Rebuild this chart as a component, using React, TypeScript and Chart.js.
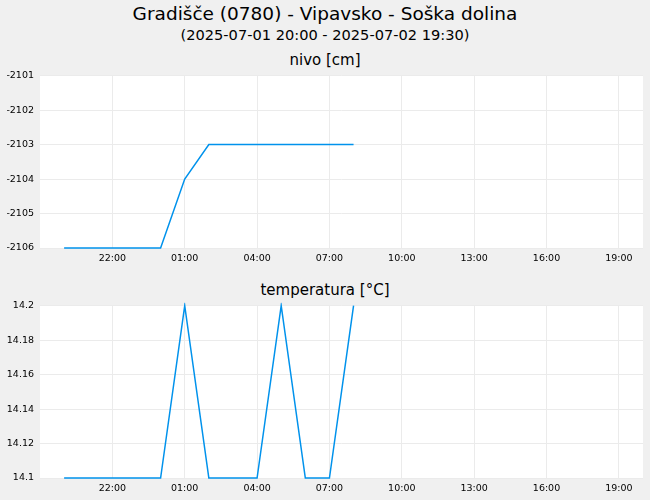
import React, { useEffect, useRef } from "react";
import { Chart, registerables } from "chart.js";
Chart.register(...registerables);

const TITLE = "Gradišče (0780) - Vipavsko - Soška dolina";
const SUBTITLE = "(2025-07-01 20:00 - 2025-07-02 19:30)";
const LEVEL_TITLE = "nivo [cm]";
const TEMP_TITLE = "temperatura [°C]";

const times = ["20:00", "21:00", "22:00", "23:00", "00:00", "01:00", "02:00", "03:00", "04:00", "05:00", "06:00", "07:00", "08:00"];
const levelValues = [-2106, -2106, -2106, -2106, -2106, -2104, -2103, -2103, -2103, -2103, -2103, -2103, -2103];
const tempValues = [14.1, 14.1, 14.1, 14.1, 14.1, 14.2, 14.1, 14.1, 14.1, 14.2, 14.1, 14.1, 14.2];
const xTickLabels = ["22:00", "01:00", "04:00", "07:00", "10:00", "13:00", "16:00", "19:00"];
const axisRange = ["19:00", "20:00"];
const levelTicks = [-2106, -2105, -2104, -2103, -2102, -2101];
const tempTicks = [14.1, 14.12, 14.14, 14.16, 14.18, 14.2];

const BASE = 19;
// hours since 19:00 on day 1, handling wrap past midnight in sequence
function seqHours(list: string[], start = BASE): number[] {
  const out: number[] = [];
  let prev = -Infinity;
  for (const t of list) {
    const [h, m] = t.split(":").map(Number);
    let v = h + m / 60 - start;
    if (v < 0) v += 24;
    while (v <= prev) v += 24;
    out.push(v);
    prev = v;
  }
  return out;
}

const xData = seqHours(times);
const xTicks = seqHours(xTickLabels);
const xRange = seqHours(axisRange);
const xMin = xRange[0];
const xMax = xRange[1] + 24;

const LINE_COLOR = "#0092ec";
const GRID = "#ebebeb";
const FONT = "'DejaVu Sans', sans-serif";

const bgPlugin = {
  id: "areaBg",
  beforeDraw(chart: any) {
    const { ctx, chartArea } = chart;
    ctx.save();
    ctx.fillStyle = "#ffffff";
    ctx.fillRect(chartArea.left, chartArea.top, chartArea.right - chartArea.left, chartArea.bottom - chartArea.top);
    ctx.restore();
  },
};

function makeConfig(values: number[], yTicks: number[], fmt: (v: number) => string): any {
  return {
    type: "line",
    data: {
      datasets: [
        {
          data: xData.map((x, i) => ({ x, y: values[i] })),
          borderColor: LINE_COLOR,
          borderWidth: 1.5,
          pointRadius: 0,
          tension: 0,
          fill: false,
          clip: 3,
        },
      ],
    },
    options: {
      animation: false,
      responsive: false,
      maintainAspectRatio: false,
      layout: { padding: { top: 0, right: 7, left: 0, bottom: 0 } },
      plugins: { legend: { display: false }, tooltip: { enabled: false }, title: { display: false } },
      scales: {
        x: {
          type: "linear",
          min: xMin,
          max: xMax,
          afterBuildTicks: (s: any) => { s.ticks = xTicks.map((v) => ({ value: v })); },
          afterFit: (s: any) => { s.height = 20; },
          grid: { color: GRID, drawTicks: false },
          border: { display: false },
          ticks: {
            padding: 5,
            maxRotation: 0,
            autoSkip: false,
            color: "#000",
            font: { family: FONT, size: 9.5 },
            callback: (v: number) => {
              const i = xTicks.findIndex((t) => Math.abs(t - v) < 1e-6);
              return i >= 0 ? xTickLabels[i] : "";
            },
          },
        },
        y: {
          type: "linear",
          min: yTicks[0],
          max: yTicks[yTicks.length - 1],
          afterBuildTicks: (s: any) => { s.ticks = yTicks.map((v) => ({ value: v })); },
          afterFit: (s: any) => { s.width = 40; },
          grid: { color: GRID, drawTicks: false },
          border: { display: false },
          ticks: {
            padding: 6,
            autoSkip: false,
            color: "#000",
            font: { family: FONT, size: 9.5 },
            callback: (v: number) => fmt(v),
          },
        },
      },
    },
    plugins: [bgPlugin],
  };
}

function ChartCanvas({ top, values, yTicks, fmt }: { top: number; values: number[]; yTicks: number[]; fmt: (v: number) => string }) {
  const ref = useRef<HTMLCanvasElement | null>(null);
  useEffect(() => {
    if (!ref.current) return;
    const chart = new Chart(ref.current, makeConfig(values, yTicks, fmt));
    return () => chart.destroy();
  }, []);
  return (
    <canvas
      ref={ref}
      width={650}
      height={204}
      style={{ position: "absolute", left: 0, top, width: 650, height: 204 }}
    />
  );
}

function Text({ y, size, children }: { y: number; size: number; children: React.ReactNode }) {
  return (
    <div
      style={{
        position: "absolute",
        left: 0,
        top: y - 12,
        width: 650,
        height: 24,
        lineHeight: "24px",
        textAlign: "center",
        fontFamily: FONT,
        fontSize: size,
        color: "#000",
        whiteSpace: "nowrap",
      }}
    >
      {children}
    </div>
  );
}

export default function App() {
  useEffect(() => {
    document.body.style.margin = "0";
  }, []);
  return (
    <div style={{ position: "relative", width: 650, height: 500, background: "#f0f0f0", overflow: "hidden" }}>
      <Text y={14} size={18.5}>{TITLE}</Text>
      <Text y={35} size={14.6}>{SUBTITLE}</Text>
      <Text y={60} size={15}>{LEVEL_TITLE}</Text>
      <Text y={290} size={15}>{TEMP_TITLE}</Text>
      <ChartCanvas top={64} values={levelValues} yTicks={levelTicks} fmt={(v) => String(v)} />
      <ChartCanvas top={294} values={tempValues} yTicks={tempTicks} fmt={(v) => String(parseFloat(v.toFixed(2)))} />
    </div>
  );
}
